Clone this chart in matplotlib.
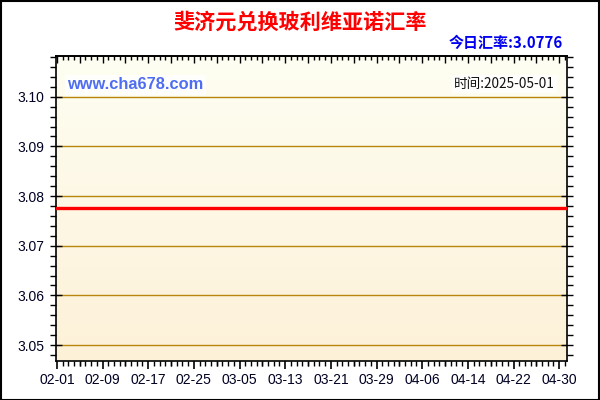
import matplotlib
matplotlib.use("Agg")
import matplotlib.pyplot as plt
import matplotlib.dates as mdates
import numpy as np
import pandas as pd
from matplotlib.ticker import MultipleLocator
from matplotlib.colors import LinearSegmentedColormap

plt.rcParams['font.family'] = ['Noto Sans CJK SC', 'DejaVu Sans']

title = "斐济元兑换玻利维亚诺汇率"
today_label = "今日汇率:3.0776"
site = "www.cha678.com"
time_label = "时间:2025-05-01"
dates = ["2025-02-01", "2025-05-01"]
rates = [3.0776, 3.0776]
xtick_dates = ["2025-02-01", "2025-02-09", "2025-02-17", "2025-02-25", "2025-03-05",
               "2025-03-13", "2025-03-21", "2025-03-29", "2025-04-06", "2025-04-14",
               "2025-04-22", "2025-04-30"]
xtick_labels = ["02-01", "02-09", "02-17", "02-25", "03-05", "03-13", "03-21",
                "03-29", "04-06", "04-14", "04-22", "04-30"]
yticks = [3.05, 3.06, 3.07, 3.08, 3.09, 3.10]

fig = plt.figure(figsize=(6, 4), dpi=100)
fig.patch.set_facecolor("white")
fig.add_artist(plt.Rectangle((0.001, 0.001), 0.997, 0.996, transform=fig.transFigure,
                             fill=False, edgecolor="black", linewidth=1.5))

ax = fig.add_axes([0.0933, 0.0975, 0.852, 0.7625])
d = pd.to_datetime(dates)
xd = mdates.date2num(d)
start = mdates.date2num(pd.Timestamp("2025-02-01"))
x0 = start - 0.15
x1 = mdates.date2num(pd.Timestamp("2025-05-01")) + 0.4
ax.set_xlim(x0, x1)
ax.set_ylim(3.0468, 3.1082)

cmap = LinearSegmentedColormap.from_list("bg", ["#fdf1d8", "#fefef2"])
grad = np.linspace(0, 1, 256).reshape(-1, 1)
ax.imshow(grad, aspect="auto", cmap=cmap, origin="lower",
          extent=[x0, x1, 3.0468, 3.1082], zorder=0)

for yv in yticks:
    ax.axhline(yv, color="#b8860b", linewidth=1.0, zorder=1)

ax.plot(xd, rates, color="#ff0000", linewidth=2.4, zorder=3)

# bottom: labelled ticks every 8 days, medium ticks every 4 days, minor every day
xt = mdates.date2num(pd.to_datetime(xtick_dates))
ax.set_xticks(xt)
ax.set_xticklabels(xtick_labels)
mid = [t + 4 for t in xt if t + 4 <= x1]
ax.set_xticks(list(mid) + [start + k for k in range(0, 90)], minor=True)
ax.set_yticks(yticks)
ax.set_yticklabels([f"{v:.2f}" for v in yticks])
ax.yaxis.set_minor_locator(MultipleLocator(0.002))

ax.tick_params(axis="x", which="major", direction="out", length=6, width=1.2,
               top=False, bottom=True, labelsize=10, pad=3)
ax.tick_params(axis="x", which="minor", direction="out", length=3.5, width=1,
               top=False, bottom=True)
ax.tick_params(axis="y", which="major", direction="inout", length=9, width=1,
               left=True, right=True, labelsize=10, pad=4)
ax.tick_params(axis="y", which="minor", direction="out", length=4, width=1,
               left=True, right=True)
for lbl in ax.get_xticklabels() + ax.get_yticklabels():
    lbl.set_color("#000022")
    lbl.set_family(["Liberation Sans", "DejaVu Sans"])

# top: inward ticks, no labels
top = ax.secondary_xaxis("top")
top.set_xticks(list(xt) + list(mid))
top.set_xticks([start + k for k in range(0, 90)], minor=True)
top.tick_params(axis="x", which="major", direction="in", length=5, width=1, labeltop=False)
top.tick_params(axis="x", which="minor", direction="in", length=3, width=1)
top.spines["top"].set_linewidth(1.2)

for s in ax.spines.values():
    s.set_color("black")
    s.set_linewidth(1.2)

fig.text(0.5, 1 - 22 / 400, title, color="#ff0000", fontsize=15.2, fontweight="bold",
         ha="center", va="center")
fig.text(563 / 600, 1 - 43 / 400, today_label, color="#0000ee", fontsize=10.8,
         fontweight="bold", ha="right", va="center")
ax.text(0.022, 0.905, site, transform=ax.transAxes, color="#4f6df0", fontsize=11.8,
        fontweight="bold", ha="left", va="center",
        family=["Liberation Sans", "DejaVu Sans"],
        bbox=dict(facecolor="white", edgecolor="none", pad=1.5, alpha=0.9), zorder=4)
ax.text(0.976, 0.908, time_label, transform=ax.transAxes, color="#111111", fontsize=9.8,
        ha="right", va="center",
        bbox=dict(facecolor="white", edgecolor="none", pad=1.5, alpha=0.9), zorder=4)

fig.savefig("out.png", dpi=100)
